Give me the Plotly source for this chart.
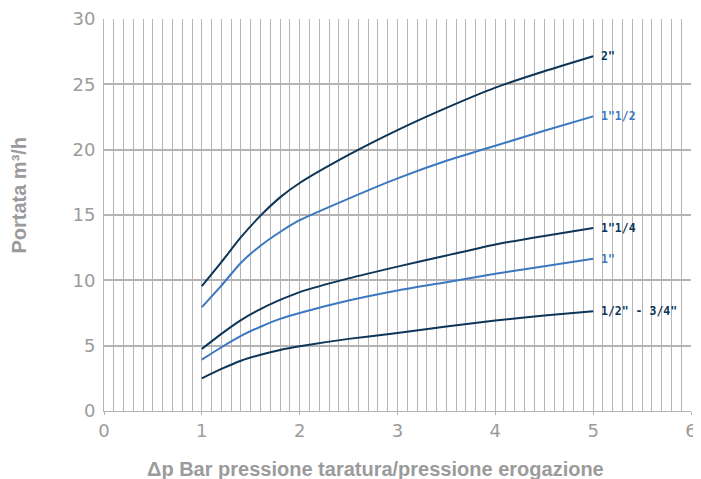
import plotly.graph_objects as go

x_vals = [1, 1.2, 1.4, 1.6, 1.8, 2, 2.5, 3, 3.5, 4, 4.5, 5]
s_2 = [9.55, 11.4, 13.3, 14.95, 16.35, 17.45, 19.6, 21.5, 23.2, 24.75, 26.0, 27.15]
s_1_12 = [7.95, 9.6, 11.35, 12.65, 13.7, 14.6, 16.25, 17.8, 19.15, 20.3, 21.45, 22.55]
s_1_14 = [4.75, 5.9, 6.95, 7.8, 8.5, 9.1, 10.15, 11.05, 11.9, 12.75, 13.4, 14.0]
s_1 = [3.93, 4.88, 5.75, 6.45, 7.05, 7.5, 8.45, 9.22, 9.86, 10.5, 11.08, 11.65]
s_12_34 = [2.5, 3.22, 3.85, 4.3, 4.67, 4.95, 5.52, 5.97, 6.46, 6.92, 7.3, 7.63]

names = ['2"', '1"1/2', '1"1/4', '1"', '1/2" - 3/4"']
series = [s_2, s_1_12, s_1_14, s_1, s_12_34]
dark = "#0c3558"
blue = "#3b78c0"
colors = [dark, blue, dark, blue, dark]

x_ticks = [0, 1, 2, 3, 4, 5, 6]
y_ticks = [0, 5, 10, 15, 20, 25, 30]

fig = go.Figure()
for nm, ys, c in zip(names, series, colors):
    fig.add_trace(go.Scatter(x=x_vals, y=ys, mode="lines", name=nm,
                             line=dict(color=c, width=2, shape="spline", smoothing=0.6),
                             showlegend=False, hoverinfo="skip"))
    fig.add_annotation(x=x_vals[-1], y=ys[-1], text="<b>%s</b>" % nm, showarrow=False,
                       xanchor="left", yanchor="middle", xshift=6,
                       font=dict(family="DejaVu Sans Mono", size=11.5, color=c))

title_c = "#9b9b9b"
fig.add_annotation(xref="paper", yref="paper", x=0.4625, y=-0.1485,
                   text="<b>Δp Bar pressione taratura/pressione erogazione</b>",
                   showarrow=False, xanchor="center", yanchor="middle",
                   font=dict(family="Liberation Sans", size=20, color=title_c))
fig.add_annotation(xref="paper", yref="paper", x=-0.1455, y=0.551,
                   text="<b>Portata m³/h</b>", textangle=-90,
                   showarrow=False, xanchor="center", yanchor="middle",
                   font=dict(family="Liberation Sans", size=20, color=title_c))

grid_c = "#b5b5b5"
tick_font = dict(family="DejaVu Sans", size=18, color="#9b9b9b")
fig.update_layout(
    width=693, height=471,
    margin=dict(l=96, r=10, t=11, b=68),
    paper_bgcolor="white", plot_bgcolor="white",
    font=dict(family="Liberation Sans", color="#9b9b9b"),
    xaxis=dict(range=[0, 6], tickvals=x_ticks, ticktext=[str(v) for v in x_ticks],
               automargin=False,
               showgrid=True, gridcolor=grid_c, gridwidth=1,
               minor=dict(dtick=0.1, showgrid=True, gridcolor=grid_c, gridwidth=1),
               ticks="outside", ticklen=3, tickcolor=grid_c,
               tickfont=tick_font,
               zeroline=False, showline=True, linecolor=grid_c, linewidth=1),
    yaxis=dict(range=[0, 30], tickvals=y_ticks, ticktext=[str(v) for v in y_ticks],
               automargin=False,
               showgrid=True, gridcolor=grid_c, gridwidth=1.5,
               ticks="", tickfont=tick_font, ticklabelstandoff=4,
               zeroline=False, showline=True, linecolor=grid_c, linewidth=1),
)

fig.write_html("out.html")
